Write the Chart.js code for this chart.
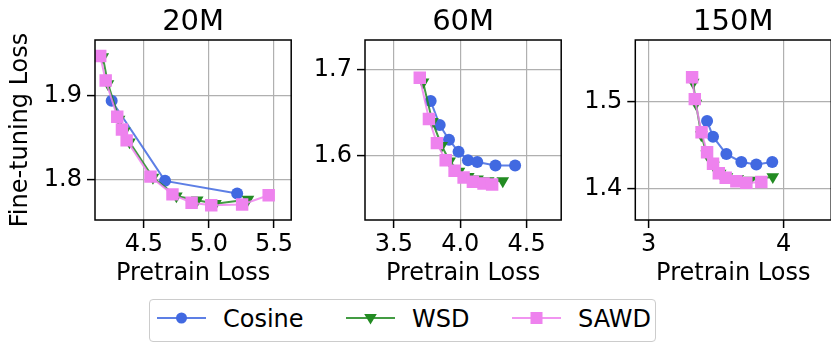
<!DOCTYPE html>
<html>
<head>
<meta charset="utf-8">
<script src="https://cdn.jsdelivr.net/npm/chart.js@4.4.1/dist/chart.umd.min.js"></script>
<style>
  html, body { margin: 0; padding: 0; background: #fff; width: 831px; height: 343px; overflow: hidden; }
  .panel { position: absolute; top: 0; }
  #legend {
    position: absolute; left: 149px; top: 299px; width: 505px; height: 41px;
    border: 1px solid #cccccc; border-radius: 4px; background: #fff;
    font-family: 'DejaVu Sans', sans-serif; font-size: 24px; color: #000;
  }
  #legend .item { position: absolute; top: 0; height: 41px; }
  #legend svg { position: absolute; top: 8px; }
  #legend span { position: absolute; top: 5px; white-space: nowrap; line-height: 28px; }
</style>
</head>
<body>
<canvas id="c20" class="panel" style="left:0px" width="300" height="290"></canvas>
<canvas id="c60" class="panel" style="left:300px" width="270" height="290"></canvas>
<canvas id="c150" class="panel" style="left:570px" width="270" height="290"></canvas>
<div id="legend"></div>
<script>
// Schedules and model sizes
const seriesNames = ['Cosine', 'WSD', 'SAWD'];
const seriesColors = ['#4169e1', '#228b22', '#ee82ee'];
const panelTitles = ['20M', '60M', '150M'];

// 20M: pretrain loss (x) vs fine-tuning loss (y)
const cosine20mX = [4.253, 4.663, 5.217];
const cosine20mY = [1.894, 1.799, 1.784];
const wsd20mX = [4.185, 4.225, 4.31, 4.35, 4.39, 4.57, 4.75, 4.91, 5.05, 5.30];
const wsd20mY = [1.946, 1.914, 1.872, 1.858, 1.845, 1.803, 1.781, 1.776, 1.772, 1.777];
const sawd20mX = [4.165, 4.207, 4.296, 4.332, 4.368, 4.551, 4.720, 4.867, 5.018, 5.255, 5.459];
const sawd20mY = [1.947, 1.918, 1.875, 1.860, 1.847, 1.804, 1.783, 1.773, 1.770, 1.771, 1.782];

// 60M
const cosine60mX = [3.777, 3.845, 3.915, 3.987, 4.058, 4.128, 4.265, 4.413];
const cosine60mY = [1.664, 1.636, 1.619, 1.605, 1.595, 1.593, 1.589, 1.589];
const wsd60mX = [3.72, 3.79, 3.86, 3.92, 3.99, 4.06, 4.13, 4.21, 4.32];
const wsd60mY = [1.686, 1.640, 1.612, 1.594, 1.582, 1.576, 1.573, 1.571, 1.571];
const sawd60mX = [3.695, 3.764, 3.824, 3.890, 3.957, 4.025, 4.095, 4.175, 4.240];
const sawd60mY = [1.691, 1.643, 1.615, 1.595, 1.583, 1.575, 1.570, 1.568, 1.567];

// 150M
const cosine150mX = [3.433, 3.477, 3.576, 3.687, 3.798, 3.916];
const cosine150mY = [1.478, 1.460, 1.440, 1.431, 1.428, 1.431];
const wsd150mX = [3.33, 3.35, 3.39, 3.43, 3.48, 3.53, 3.58, 3.66, 3.75, 3.92];
const wsd150mY = [1.522, 1.498, 1.462, 1.440, 1.427, 1.418, 1.414, 1.412, 1.410, 1.414];
const sawd150mX = [3.322, 3.342, 3.392, 3.433, 3.477, 3.520, 3.571, 3.650, 3.724, 3.835];
const sawd150mY = [1.528, 1.503, 1.465, 1.442, 1.429, 1.418, 1.413, 1.409, 1.407, 1.408];

// Tick values and labels
const xTicks20m = [4.5, 5.0, 5.5];
const xTickLabels20m = ['4.5', '5.0', '5.5'];
const yTicks20m = [1.8, 1.9];
const yTickLabels20m = ['1.8', '1.9'];
const xTicks60m = [3.5, 4.0, 4.5];
const xTickLabels60m = ['3.5', '4.0', '4.5'];
const yTicks60m = [1.6, 1.7];
const yTickLabels60m = ['1.6', '1.7'];
const xTicks150m = [3, 4];
const xTickLabels150m = ['3', '4'];
const yTicks150m = [1.4, 1.5];
const yTickLabels150m = ['1.4', '1.5'];

const xAxisTitle = 'Pretrain Loss';
const yAxisTitle = 'Fine-tuning Loss';

Chart.defaults.font.family = "'DejaVu Sans', sans-serif";
Chart.defaults.color = '#000';

const toPoints = (xs, ys) => xs.map((x, i) => ({ x: x, y: ys[i] }));

const withAlpha = (hex, a) => {
  const n = parseInt(hex.slice(1), 16);
  return `rgba(${(n >> 16) & 255},${(n >> 8) & 255},${n & 255},${a})`;
};

const markerStyles = [
  { pointStyle: 'circle', pointRadius: 6, pointRotation: 0 },
  { pointStyle: 'triangle', pointRadius: 7.3, pointRotation: 180 },
  { pointStyle: 'rect', pointRadius: 8.8, pointRotation: 0 }
];

// Black box around each plot area
const framePlugin = {
  id: 'frame',
  afterDatasetsDraw(chart) {
    const a = chart.chartArea;
    const ctx = chart.ctx;
    ctx.save();
    ctx.strokeStyle = '#000';
    ctx.lineWidth = 1.5;
    ctx.strokeRect(a.left, a.top, a.right - a.left, a.bottom - a.top);
    ctx.restore();
  }
};

// Panel heading centred over the plot area
const panelTitlePlugin = {
  id: 'panelTitle',
  afterDraw(chart, args, opts) {
    const a = chart.chartArea;
    const ctx = chart.ctx;
    ctx.save();
    ctx.fillStyle = '#000';
    ctx.font = "29px 'DejaVu Sans', sans-serif";
    ctx.textAlign = 'center';
    ctx.textBaseline = 'middle';
    ctx.fillText(opts.text, (a.left + a.right) / 2, 22);
    ctx.restore();
  }
};

function makePanel(canvasId, title, seriesXY, xRange, yRange, xTicks, xLabels, yTicks, yLabels, yAxisWidth, showYTitle) {
  const datasets = seriesXY.map((s, i) => Object.assign({
    label: seriesNames[i],
    data: toPoints(s[0], s[1]),
    showLine: true,
    borderColor: withAlpha(seriesColors[i], 0.85),
    borderWidth: 2,
    backgroundColor: seriesColors[i],
    pointBackgroundColor: seriesColors[i],
    pointBorderColor: seriesColors[i],
    pointBorderWidth: 0,
    order: 3 - i
  }, markerStyles[i]));

  return new Chart(document.getElementById(canvasId), {
    type: 'scatter',
    data: { datasets: datasets },
    plugins: [framePlugin, panelTitlePlugin],
    options: {
      responsive: false,
      animation: false,
      devicePixelRatio: 1,
      layout: { padding: { left: 0, right: 8.5, top: 40, bottom: 0 } },
      plugins: {
        legend: { display: false },
        tooltip: { enabled: false },
        title: { display: false },
        panelTitle: { text: title }
      },
      scales: {
        x: {
          type: 'linear',
          min: xRange[0],
          max: xRange[1],
          afterBuildTicks: s => { s.ticks = xTicks.map(v => ({ value: v })); },
          afterFit: s => { s.height = 70; },
          ticks: {
            callback: (v, i) => xLabels[i],
            font: { size: 24 },
            color: '#000',
            padding: 2.4,
            maxRotation: 0,
            autoSkip: false
          },
          grid: { color: '#b0b0b0', lineWidth: 1.2, tickLength: 8, tickColor: '#000', tickWidth: 1.5 },
          border: { display: false },
          title: {
            display: true,
            text: xAxisTitle,
            font: { size: 24 },
            color: '#000',
            padding: { top: 0, bottom: 2 }
          }
        },
        y: {
          type: 'linear',
          min: yRange[0],
          max: yRange[1],
          afterBuildTicks: s => { s.ticks = yTicks.map(v => ({ value: v })); },
          afterFit: s => { s.width = yAxisWidth; },
          ticks: {
            callback: (v, i) => yLabels[i],
            font: { size: 24 },
            color: '#000',
            padding: 5,
            autoSkip: false
          },
          grid: { color: '#b0b0b0', lineWidth: 1.2, tickLength: 8, tickColor: '#000', tickWidth: 1.5 },
          border: { display: false },
          title: {
            display: showYTitle,
            text: yAxisTitle,
            font: { size: 24 },
            color: '#000',
            padding: { top: 6.6, bottom: 0 }
          }
        }
      }
    }
  });
}

makePanel('c20', panelTitles[0],
  [[cosine20mX, cosine20mY], [wsd20mX, wsd20mY], [sawd20mX, sawd20mY]],
  [4.125, 5.632], [1.7526, 1.966],
  xTicks20m, xTickLabels20m, yTicks20m, yTickLabels20m, 95, true);

makePanel('c60', panelTitles[1],
  [[cosine60mX, cosine60mY], [wsd60mX, wsd60mY], [sawd60mX, sawd60mY]],
  [3.2825, 4.76], [1.5256, 1.735],
  xTicks60m, xTickLabels60m, yTicks60m, yTickLabels60m, 65, false);

makePanel('c150', panelTitles[2],
  [[cosine150mX, cosine150mY], [wsd150mX, wsd150mY], [sawd150mX, sawd150mY]],
  [2.901, 4.353], [1.3645, 1.5707],
  xTicks150m, xTickLabels150m, yTicks150m, yTickLabels150m, 65.3, false);

// Shared legend below the panels
(function buildLegend() {
  const legend = document.getElementById('legend');
  const itemLeft = [7, 196, 362];
  const markerSvg = [
    '<circle cx="24.5" cy="10" r="5.5" />',
    '<polygon points="18.2,6 30.8,6 24.5,16.5" />',
    '<rect x="18.5" y="4" width="12" height="12" />'
  ];
  seriesNames.forEach((name, i) => {
    const item = document.createElement('div');
    item.className = 'item';
    item.style.left = itemLeft[i] + 'px';
    const c = seriesColors[i];
    item.innerHTML =
      '<svg width="49" height="20" style="left:0">' +
      '<line x1="0" y1="10" x2="49" y2="10" stroke="' + withAlpha(c, 0.85) + '" stroke-width="2.2" />' +
      '<g fill="' + c + '">' + markerSvg[i] + '</g></svg>' +
      '<span style="left:66px">' + name + '</span>';
    legend.appendChild(item);
  });
})();
</script>
</body>
</html>
